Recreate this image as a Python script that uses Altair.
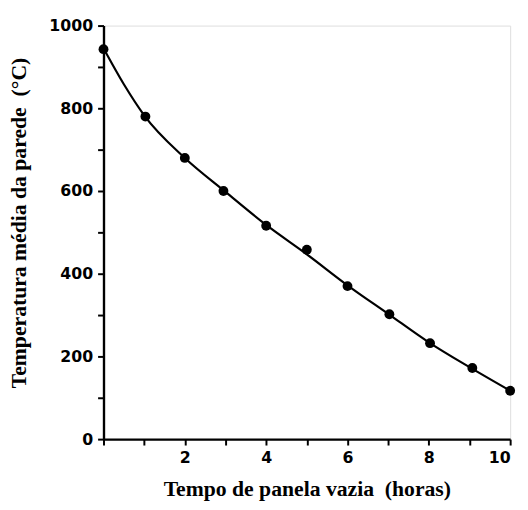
import altair as alt
import pandas as pd

# measured points
hours = [0, 1.03, 2, 2.95, 4, 5, 6, 7.03, 8.03, 9.07, 10]
temps = [943, 780, 680, 600, 516, 458, 370, 302, 232, 172, 117]

# smooth fitted curve
curve_h = [0, 0.5, 1, 2, 3, 4, 5, 6, 7, 8, 9, 10]
curve_t = [945, 858, 783, 680, 598, 518, 447, 372, 303, 234, 174, 117]

x_ticks = list(range(0, 11))
y_ticks = list(range(0, 1001, 100))

pts_df = pd.DataFrame({"h": hours, "t": temps})
curve_df = pd.DataFrame({"h": curve_h, "t": curve_t})

x_enc = alt.X("h:Q", scale=alt.Scale(domain=[0, 10], nice=False),
              axis=alt.Axis(values=x_ticks,
                            labelExpr="datum.value % 2 == 0 && datum.value > 0 ? datum.label : ''",
                            title="Tempo de panela vazia\u00a0\u00a0(horas)",
                            grid=False, domainColor="black", domainWidth=2.4,
                            tickColor="black", tickWidth=2, tickSize=6,
                            labelFont="DejaVu Sans", labelFontWeight="bold", labelFontSize=16,
                            labelColor="black", labelPadding=5,
                            titleFont="Liberation Serif", titleFontWeight="bold", titleFontSize=22,
                            titleColor="black", titlePadding=13))
y_enc = alt.Y("t:Q", scale=alt.Scale(domain=[0, 1000], nice=False),
              axis=alt.Axis(values=y_ticks, format="d",
                            labelExpr="datum.value % 200 == 0 ? datum.label : ''",
                            title="Temperatura média da parede\u00a0\u00a0(°C)",
                            grid=False, domainColor="black", domainWidth=2.4,
                            tickColor="black", tickWidth=2, tickSize=6,
                            labelFont="DejaVu Sans", labelFontWeight="bold", labelFontSize=16,
                            labelColor="black", labelPadding=5,
                            titleFont="Liberation Serif", titleFontWeight="bold", titleFontSize=22,
                            titleColor="black", titleX=-74, titleY=200))

line = alt.Chart(curve_df).mark_line(color="black", strokeWidth=2.2,
                                     interpolate="monotone").encode(x=x_enc, y=y_enc)
pts = alt.Chart(pts_df).mark_circle(color="black", opacity=1, size=100).encode(x="h:Q", y="t:Q")

chart = (line + pts).properties(
    width=413, height=420,
    autosize=alt.AutoSizeParams(type="none"),
    padding={"left": 97, "top": 14, "right": 10, "bottom": 60},
).configure_view(stroke=None).configure(background="white")

chart.save("out.html", embed_options={"renderer": "svg", "actions": False})
